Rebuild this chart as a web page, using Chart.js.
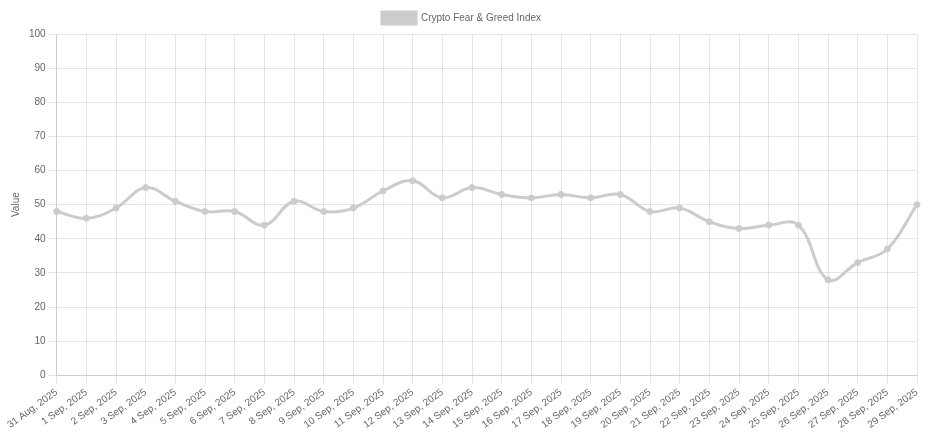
<!DOCTYPE html>
<html>
<head>
<meta charset="utf-8">
<script src="https://cdn.jsdelivr.net/npm/chart.js@4"></script>
<style>
  html, body { margin: 0; padding: 0; background: #fff; }
  #wrap { width: 945px; height: 444px; }
</style>
</head>
<body>
<div id="wrap"><canvas id="fearGreed"></canvas></div>
<script>
const dates = ["31 Aug, 2025", "1 Sep, 2025", "2 Sep, 2025", "3 Sep, 2025", "4 Sep, 2025", "5 Sep, 2025",
  "6 Sep, 2025", "7 Sep, 2025", "8 Sep, 2025", "9 Sep, 2025", "10 Sep, 2025", "11 Sep, 2025",
  "12 Sep, 2025", "13 Sep, 2025", "14 Sep, 2025", "15 Sep, 2025", "16 Sep, 2025", "17 Sep, 2025",
  "18 Sep, 2025", "19 Sep, 2025", "20 Sep, 2025", "21 Sep, 2025", "22 Sep, 2025", "23 Sep, 2025",
  "24 Sep, 2025", "25 Sep, 2025", "26 Sep, 2025", "27 Sep, 2025", "28 Sep, 2025", "29 Sep, 2025"];
const indexValues = [48, 46, 49, 55, 51, 48, 48, 44, 51, 48, 49, 54, 57, 52, 55, 53, 52, 53, 52, 53,
  48, 49, 45, 43, 44, 44, 28, 33, 37, 50];

Chart.defaults.font.family = "'Liberation Sans', Arial, Helvetica, sans-serif";
Chart.defaults.font.size = 10;
Chart.defaults.color = '#666';

const ctx = document.getElementById('fearGreed');
new Chart(ctx, {
  type: 'line',
  data: {
    labels: dates,
    datasets: [{
      label: 'Crypto Fear & Greed Index',
      data: indexValues,
      borderColor: 'rgba(204, 204, 204, 1)',
      backgroundColor: 'rgba(204, 204, 204, 1)',
      borderWidth: 3,
      tension: 0.4,
      fill: false,
      pointRadius: 3,
      pointBorderWidth: 1
    }]
  },
  options: {
    responsive: true,
    maintainAspectRatio: false,
    animation: false,
    layout: { padding: { top: 2, left: 6, right: 28, bottom: 10 } },
    plugins: {
      legend: {
        labels: { boxWidth: 34, boxHeight: 12 }
      },
      tooltip: { enabled: false }
    },
    scales: {
      y: {
        min: 0,
        max: 100,
        ticks: { stepSize: 10 },
        title: { display: true, text: 'Value' }
      },
      x: {
        ticks: { maxRotation: 36, minRotation: 36, autoSkip: false }
      }
    }
  }
});
</script>
</body>
</html>
